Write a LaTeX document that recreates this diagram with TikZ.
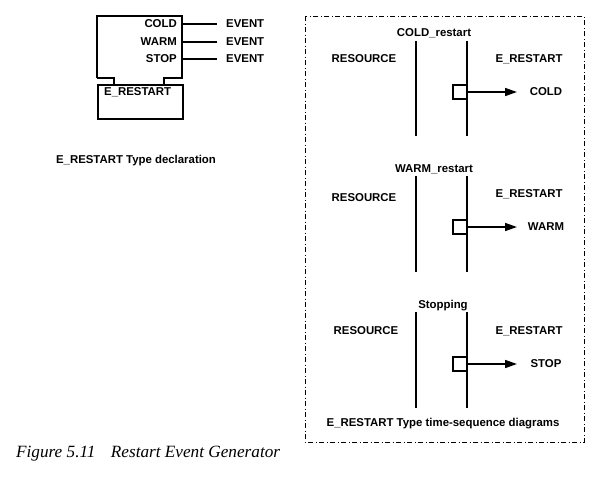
\documentclass[tikz,border=0pt]{standalone}
\usepackage{fontspec}
\setmainfont{Liberation Sans}
\newfontfamily\capfont{Liberation Serif}
\usetikzlibrary{arrows.meta}
\begin{document}
\begin{tikzpicture}[x=1pt,y=-1pt,
  lbl/.style={font=\fontsize{11.4}{13}\selectfont\bfseries, inner sep=0pt},
  fbline/.style={line width=1.8pt},
  life/.style={line width=2pt},
  sq/.style={line width=1.5pt},
  sig/.style={line width=1.6pt, -{Triangle[length=12pt,width=8pt]}},
  frame/.style={line width=1pt, dash pattern=on 5pt off 2.5pt on 1pt off 2.5pt}]
\useasboundingbox (0,0) rectangle (592,480);
% function block
\draw[fbline] (97,78) -- (97,16) -- (182,16) -- (182,78) -- (164,78) -- (164,84);
\draw[fbline] (97,78) -- (114,78) -- (114,84);
\node[draw, fbline, minimum width=85pt, minimum height=34pt, anchor=north west, inner sep=0pt] (fbtype) at (97,84) {};
\node[lbl, anchor=north west] (fbname) at (104,87) {E\_RESTART};
\node[lbl, anchor=east] (oCOLD) at (177,24) {COLD};
\node[lbl, anchor=east] (oWARM) at (177,42) {WARM};
\node[lbl, anchor=east] (oSTOP) at (177,59) {STOP};
\node[lbl, anchor=west] (eCOLD) at (226,24) {EVENT};
\node[lbl, anchor=west] (eWARM) at (226,42) {EVENT};
\node[lbl, anchor=west] (eSTOP) at (226,59) {EVENT};
\coordinate (pc) at (182,24); \coordinate (pw) at (182,42); \coordinate (ps) at (182,59);
\draw[fbline] (pc) -- ([xshift=-9pt]eCOLD.west);
\draw[fbline] (pw) -- ([xshift=-9pt]eWARM.west);
\draw[fbline] (ps) -- ([xshift=-9pt]eSTOP.west);
\node[lbl] (decl) at (136,161) {E\_RESTART Type declaration};
% frame
\draw[frame] (305,16) rectangle (584,442);
% sequence 1
\node[lbl] (t1) at (434,33) {COLD\_restart};
\coordinate (a1) at (416,41); \coordinate (a1e) at (416,136);
\coordinate (b1) at (467,41); \coordinate (b1e) at (467,136);
\draw[life] (a1) -- (a1e); \draw[life] (b1) -- (b1e);
\node[lbl] (r1) at (364,59) {RESOURCE};
\node[lbl] (e1) at (529,59) {E\_RESTART};
\draw[sq] (467,85) rectangle (453,99);
\coordinate (s1) at (467,92);
\node[lbl] (c1) at (546,92) {COLD};
\draw[sig] (s1) -- (517,92);
% sequence 2
\node[lbl] (t2) at (434,169) {WARM\_restart};
\coordinate (a2) at (416,176); \coordinate (a2e) at (416,272);
\coordinate (b2) at (467,176); \coordinate (b2e) at (467,272);
\draw[life] (a2) -- (a2e); \draw[life] (b2) -- (b2e);
\node[lbl] (r2) at (364,198) {RESOURCE};
\node[lbl] (e2) at (529,194) {E\_RESTART};
\draw[sq] (467,220) rectangle (453,234);
\coordinate (s2) at (467,227);
\node[lbl] (c2) at (546,227) {WARM};
\draw[sig] (s2) -- (517,227);
% sequence 3
\node[lbl] (t3) at (443,306) {Stopping};
\coordinate (a3) at (416,312); \coordinate (a3e) at (416,408);
\coordinate (b3) at (467,312); \coordinate (b3e) at (467,408);
\draw[life] (a3) -- (a3e); \draw[life] (b3) -- (b3e);
\node[lbl] (r3) at (366,331) {RESOURCE};
\node[lbl] (e3) at (529,331) {E\_RESTART};
\draw[sq] (467,357) rectangle (453,371);
\coordinate (s3) at (467,364);
\node[lbl] (c3) at (546,364) {STOP};
\draw[sig] (s3) -- (517,364);
\node[lbl] (seqcap) at (443,424) {E\_RESTART Type time-sequence diagrams};
% figure caption
\node[anchor=west, inner sep=0pt, font=\capfont\itshape\fontsize{17.2}{20}\selectfont] (figcap) at (16,454) {Figure 5.11\hspace{0.9em}Restart Event Generator};
\end{tikzpicture}
\end{document}
